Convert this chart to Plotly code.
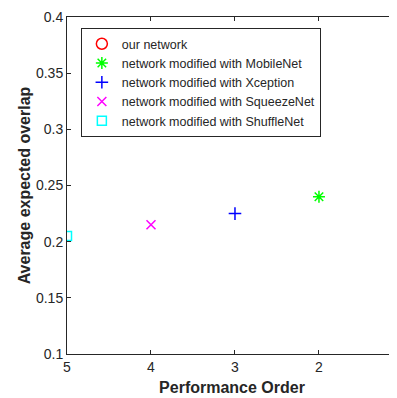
import plotly.graph_objects as go

names = ["our network", "network modified with MobileNet", "network modified with Xception",
         "network modified with SqueezeNet", "network modified with ShuffleNet"]
order = [1, 2, 3, 4, 5]
eao = [0.248, 0.240, 0.225, 0.215, 0.205]
symbols = ["circle-open", "asterisk-open", "cross-thin-open", "x-thin-open", "square-open"]
colors = ["#ff0000", "#00ff00", "#0000ff", "#ff00ff", "#00ffff"]
sizes = [11, 10, 9, 9, 9]

y_ticks = [0.1, 0.15, 0.2, 0.25, 0.3, 0.35, 0.4]
y_labels = ["0.1", "0.15", "0.2", "0.25", "0.3", "0.35", "0.4"]
x_ticks = [5, 4, 3, 2]

fig = go.Figure()
for n, x, y, s, c, sz in zip(names, order, eao, symbols, colors, sizes):
    fig.add_trace(go.Scatter(x=[x], y=[y], mode="markers", name=n,
                             marker=dict(symbol=s, size=sz, color=c,
                                         line=dict(color=c, width=1.5)),
                             cliponaxis=True))

axis_color = "#262626"
font = "Arial, Liberation Sans, sans-serif"
# page body has an 8px default margin: figure is sized/offset to compensate
fig.update_layout(
    width=389, height=390,
    margin=dict(l=59, r=0, t=9, b=44),
    plot_bgcolor="white", paper_bgcolor="white",
    font=dict(family=font, size=14, color=axis_color),
    showlegend=True,
    legend=dict(x=0.042, y=0.967, xanchor="left", yanchor="top",
                bordercolor=axis_color, borderwidth=1, bgcolor="white",
                font=dict(size=12.5, color=axis_color, family=font),
                tracegroupgap=0, itemwidth=30),
    xaxis=dict(range=[5, 1.071], tickvals=x_ticks, ticktext=[str(v) for v in x_ticks],
               showgrid=False, zeroline=False, showline=True, linecolor=axis_color,
               linewidth=1, mirror="ticks", ticks="inside", ticklen=4, tickcolor=axis_color,
               tickfont=dict(size=14, color=axis_color), automargin=True,
               title=dict(text="<b>Performance Order</b>", font=dict(size=16, color=axis_color),
                          standoff=8)),
    yaxis=dict(range=[0.1, 0.4], tickvals=y_ticks, ticktext=y_labels,
               showgrid=False, zeroline=False, showline=True, linecolor=axis_color,
               linewidth=1, mirror="ticks", ticks="inside", ticklen=4, tickcolor=axis_color,
               tickfont=dict(size=14, color=axis_color), automargin=True,
               title=dict(text="<b>Average expected overlap</b>", font=dict(size=16, color=axis_color),
                          standoff=1)),
)
fig.write_html("out.html")
